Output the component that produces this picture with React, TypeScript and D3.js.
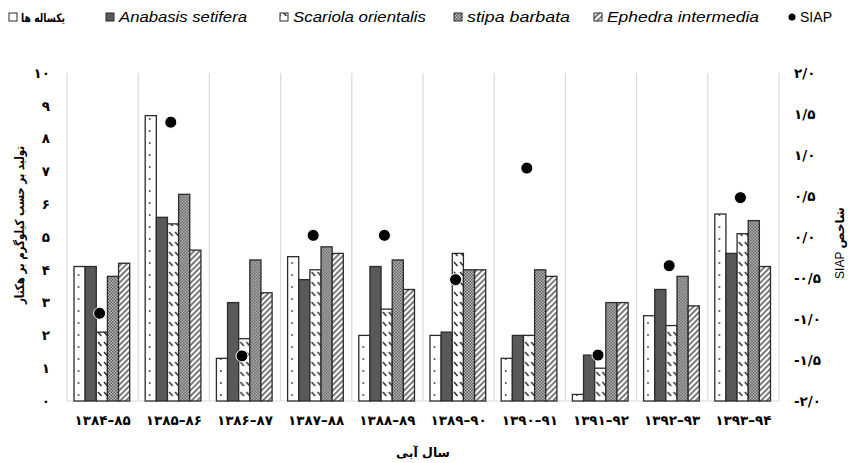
// Grouped bar chart of yearly production per species with SIAP index on a second axis

import React, { useEffect, useRef } from 'react'
import * as d3 from 'd3'

const years = ['۱۳۸۴–۸۵', '۱۳۸۵–۸۶', '۱۳۸۶–۸۷', '۱۳۸۷–۸۸', '۱۳۸۸–۸۹', '۱۳۸۹–۹۰', '۱۳۹۰–۹۱', '۱۳۹۱–۹۲', '۱۳۹۲–۹۳', '۱۳۹۳–۹۴']
const annuals = [4.1, 8.7, 1.3, 4.4, 2.0, 2.0, 1.3, 0.2, 2.6, 5.7]
const anabasis = [4.1, 5.6, 3.0, 3.7, 4.1, 2.1, 2.0, 1.4, 3.4, 4.5]
const scariola = [2.1, 5.4, 1.9, 4.0, 2.8, 4.5, 2.0, 1.0, 2.3, 5.1]
const stipa = [3.8, 6.3, 4.3, 4.7, 4.3, 4.0, 4.0, 3.0, 3.8, 5.5]
const ephedra = [4.2, 4.6, 3.3, 4.5, 3.4, 4.0, 3.8, 3.0, 2.9, 4.1]
const siap = [-0.93, 1.4, -1.45, 0.02, 0.02, -0.52, 0.84, -1.44, -0.35, 0.48]
const leftTicks = [0, 1, 2, 3, 4, 5, 6, 7, 8, 9, 10]
const rightTicks = [-2, -1.5, -1, -0.5, 0, 0.5, 1, 1.5, 2]

const series = [
  { key: 'annuals', name: 'یکساله ها', values: annuals, fill: 'url(#p-dots)', persian: true },
  { key: 'anabasis', name: 'Anabasis setifera', values: anabasis, fill: '#595959', persian: false },
  { key: 'scariola', name: 'Scariola orientalis', values: scariola, fill: 'url(#p-dash)', persian: false },
  { key: 'stipa', name: 'stipa barbata', values: stipa, fill: 'url(#p-check)', persian: false },
  { key: 'ephedra', name: 'Ephedra intermedia', values: ephedra, fill: 'url(#p-diag)', persian: false },
]

const W = 851
const H = 463
const M = { left: 67, right: 779, top: 73, bottom: 401 }
const FA = 'DejaVu Sans, sans-serif'
const LAT = 'Liberation Sans, Arial, sans-serif'

const faDigits = (s: string) => s.replace(/[0-9]/g, d => '۰۱۲۳۴۵۶۷۸۹'[+d])

const create = (el: SVGSVGElement) => {
  const svg = d3.select(el)
  svg.selectAll('*').remove()

  // Scales
  const x = d3.scaleBand<string>().domain(years).range([M.left, M.right]).padding(0)
  const xs = d3.scaleBand<string>().domain(series.map(s => s.key)).range([7, x.bandwidth() - 8.5]).padding(0)
  const y = d3.scaleLinear().domain([0, 10]).range([M.bottom, M.top])
  const y2 = d3.scaleLinear().domain([-2, 2]).range([M.bottom, M.top])

  // Patterns (bars sit in translated groups, so the dot column lines up in every bar)
  const defs = svg.append('defs')
  const bw = xs.bandwidth()
  const dots = defs
    .append('pattern')
    .attr('id', 'p-dots')
    .attr('patternUnits', 'userSpaceOnUse')
    .attr('x', xs('annuals') as number)
    .attr('y', 5)
    .attr('width', bw)
    .attr('height', 12)
  dots.append('rect').attr('width', bw).attr('height', 12).attr('fill', 'white')
  dots.append('circle').attr('cx', 4.5).attr('cy', 6).attr('r', 0.9).attr('fill', '#333')

  const dash = defs.append('pattern').attr('id', 'p-dash').attr('patternUnits', 'userSpaceOnUse').attr('width', 6).attr('height', 10)
  dash.append('rect').attr('width', 6).attr('height', 10).attr('fill', 'white')
  dash.append('line').attr('x1', 1).attr('y1', 2).attr('x2', 4.5).attr('y2', 6).attr('stroke', '#222').attr('stroke-width', 1.3)

  const check = defs.append('pattern').attr('id', 'p-check').attr('patternUnits', 'userSpaceOnUse').attr('width', 3).attr('height', 3)
  check.append('rect').attr('width', 3).attr('height', 3).attr('fill', '#c4c4c4')
  check.append('rect').attr('width', 1.5).attr('height', 1.5).attr('fill', '#555')
  check.append('rect').attr('x', 1.5).attr('y', 1.5).attr('width', 1.5).attr('height', 1.5).attr('fill', '#555')

  const diag = defs.append('pattern').attr('id', 'p-diag').attr('patternUnits', 'userSpaceOnUse').attr('width', 4).attr('height', 4).attr('patternTransform', 'rotate(45)')
  diag.append('rect').attr('width', 4).attr('height', 4).attr('fill', 'white')
  diag.append('line').attr('x1', 1).attr('y1', 0).attr('x2', 1).attr('y2', 4).attr('stroke', '#333').attr('stroke-width', 1.3)

  // Category separators and bottom line
  const grid = svg.append('g').attr('stroke', '#d9d9d9').attr('stroke-width', 1.2)
  grid
    .selectAll('line.sep')
    .data([...years.map(d => x(d) as number), M.right])
    .join('line')
    .attr('x1', d => d)
    .attr('x2', d => d)
    .attr('y1', M.top)
    .attr('y2', M.bottom)
  grid.append('line').attr('x1', M.left).attr('x2', M.right).attr('y1', M.bottom).attr('y2', M.bottom)

  // Bars
  const groups = svg
    .append('g')
    .selectAll('g')
    .data(years)
    .join('g')
    .attr('transform', d => `translate(${x(d)},0)`)

  groups
    .selectAll('rect')
    .data((d, i) => series.map(s => ({ s, v: s.values[i] })))
    .join('rect')
    .attr('x', d => xs(d.s.key) as number)
    .attr('width', bw)
    .attr('y', d => y(d.v))
    .attr('height', d => y(0) - y(d.v))
    .attr('fill', d => d.s.fill)
    .attr('stroke', '#2b2b2b')
    .attr('stroke-width', 1.3)

  // SIAP points
  svg
    .append('g')
    .selectAll('circle')
    .data(siap)
    .join('circle')
    .attr('cx', (d, i) => (x(years[i]) as number) + x.bandwidth() / 2 - 3)
    .attr('cy', d => y2(d))
    .attr('r', 6)
    .attr('fill', 'black')
    .attr('stroke', 'white')
    .attr('stroke-width', 1)

  // Left axis labels
  svg
    .append('g')
    .selectAll('text')
    .data(leftTicks)
    .join('text')
    .attr('x', 50)
    .attr('y', d => y(d))
    .attr('dy', '0.35em')
    .attr('text-anchor', 'end')
    .style('font-family', FA)
    .style('font-weight', 'bold')
    .style('font-size', '13.5px')
    .text(d => faDigits(String(d)))

  // Right axis labels
  const fmt = d3.format('.1f')
  svg
    .append('g')
    .selectAll('text')
    .data(rightTicks)
    .join('text')
    .attr('x', 794)
    .attr('y', d => y2(d))
    .attr('dy', '0.35em')
    .attr('text-anchor', 'start')
    .style('font-family', FA)
    .style('font-weight', 'bold')
    .style('font-size', '13.5px')
    .text(d => faDigits(fmt(d).replace('−', '-').replace('.', '/')))

  // X labels
  svg
    .append('g')
    .selectAll('text')
    .data(years)
    .join('text')
    .attr('x', d => (x(d) as number) + x.bandwidth() / 2)
    .attr('y', 425)
    .attr('text-anchor', 'middle')
    .style('font-family', FA)
    .style('font-weight', 'bold')
    .style('font-size', '13.5px')
    .text(d => d)

  // Axis titles
  svg
    .append('text')
    .attr('x', (M.left + M.right) / 2)
    .attr('y', 457)
    .attr('text-anchor', 'middle')
    .style('font-family', FA)
    .style('font-weight', 'bold')
    .style('font-size', '12.5px')
    .text('سال آبی')

  svg
    .append('text')
    .attr('transform', `translate(24, ${(M.top + M.bottom) / 2 - 12}) rotate(-90)`)
    .attr('text-anchor', 'middle')
    .style('font-family', FA)
    .style('font-weight', 'bold')
    .style('font-size', '12.5px')
    .attr('textLength', 158)
    .attr('lengthAdjust', 'spacingAndGlyphs')
    .text('تولید بر حسب کیلوگرم بر هکتار')

  const rt = svg
    .append('text')
    .attr('transform', `translate(844, ${(M.top + M.bottom) / 2 + 6}) rotate(-90)`)
    .attr('text-anchor', 'middle')
    .style('font-size', '12px')
  rt.append('tspan').style('font-family', LAT).text('SIAP ')
  rt.append('tspan').style('font-family', FA).style('font-weight', 'bold').text('شاخص')

  // Legend
  const legendX = [9, 106, 280, 454, 594]
  const legendW = [44, 128, 133, 103, 152]
  const legend = svg.append('g')
  series.forEach((s, i) => {
    legend
      .append('rect')
      .attr('x', legendX[i])
      .attr('y', 13)
      .attr('width', 8)
      .attr('height', 8)
      .attr('fill', s.persian ? 'white' : s.fill)
      .attr('stroke', '#2b2b2b')
      .attr('stroke-width', 1)
    legend
      .append('text')
      .attr('x', legendX[i] + (s.persian ? 12 : 13))
      .attr('y', 22)
      .style('font-family', s.persian ? FA : LAT)
      .style('font-weight', s.persian ? 'bold' : 'normal')
      .style('font-style', s.persian ? 'normal' : 'italic')
      .style('font-size', s.persian ? '12px' : '15px')
      .attr('textLength', legendW[i])
      .attr('lengthAdjust', 'spacingAndGlyphs')
      .text(s.name)
  })
  legend.append('circle').attr('cx', 792).attr('cy', 17).attr('r', 3.5).attr('fill', 'black')
  legend
    .append('text')
    .attr('x', 800)
    .attr('y', 22)
    .style('font-family', LAT)
    .style('font-size', '15px')
    .attr('textLength', 32)
    .attr('lengthAdjust', 'spacingAndGlyphs')
    .text('SIAP')
}

export default function App() {
  const ref = useRef<SVGSVGElement>(null)
  useEffect(() => {
    document.body.style.margin = '0'
    if (ref.current) create(ref.current)
  }, [])
  return <svg ref={ref} width={W} height={H} style={{ display: 'block', background: 'white' }} />
}
